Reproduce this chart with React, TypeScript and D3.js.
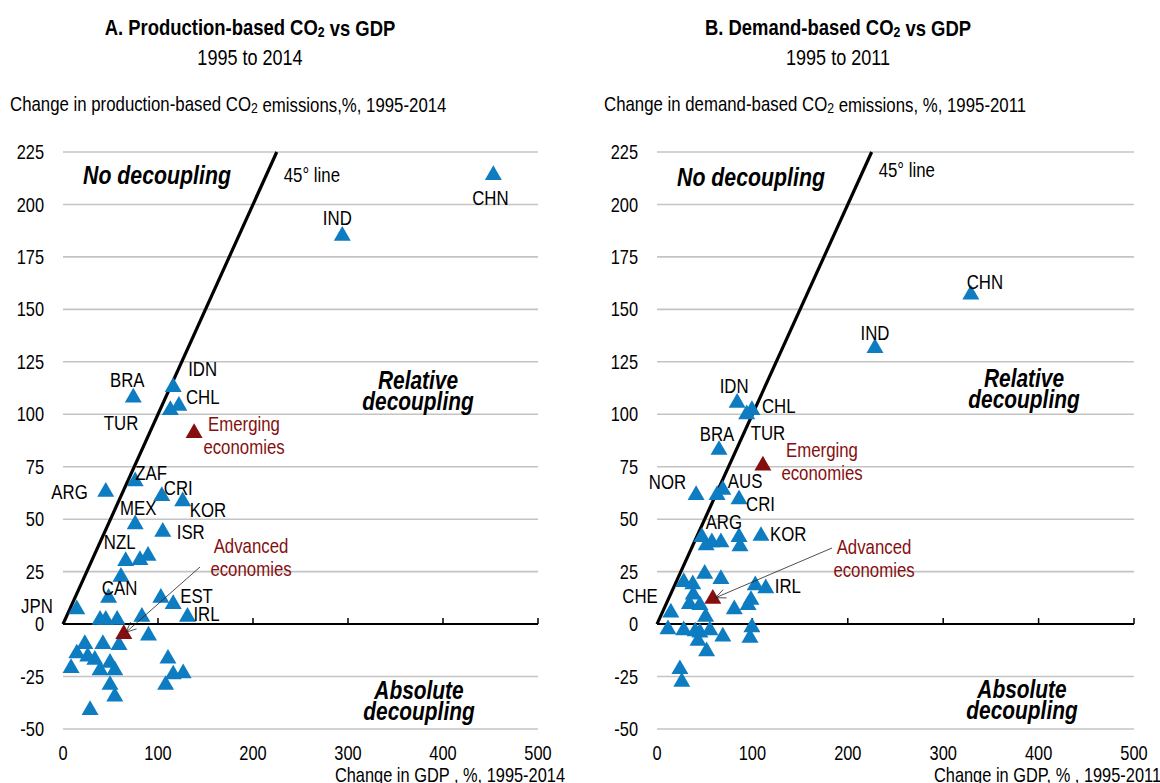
import React from "react";
import * as d3 from "d3";

// Panel A: production-based CO2 vs GDP, 1995-2014
const prodLabels = ["CHN", "IND", "IDN", "CHL", "TUR", "BRA", "ZAF", "ARG", "CRI", "KOR", "MEX", "ISR", "NZL", "CAN", "JPN", "EST", "IRL",
  "", "", "", "", "", "", "", "", "", "", "", "", "", "", "", "", "", "", "", "", "", "", "", "", "", ""];
const prodGdp = [453, 294, 116, 122, 113, 74, 76, 45, 104, 126, 76, 105, 66, 48, 14.5, 116, 131,
  81, 89.5, 61, 103, 39, 45, 57, 83, 90, 42, 59, 23, 14.5, 26, 33.5, 8.5, 39, 49.5, 54.5, 49.5, 54.5, 28.5, 110.5, 116, 126.5, 108];
const prodCo2 = [214, 185, 113, 104, 102, 108, 68, 63, 61, 58.5, 47.5, 44, 30, 12.5, 7, 9.5, 3.5,
  30.5, 32.5, 22.5, 12.5, 2, 2, 2, 3.5, -5.5, -9.5, -10, -9.5, -14, -15.5, -17, -21, -22, -18.5, -22, -29, -34.5, -41, -16.5, -24, -23.5, -29];
const prodAggregates = ["Emerging economies", "Advanced economies"];
const prodAggGdp = [138, 64];
const prodAggCo2 = [91, -4.8];

// Panel B: demand-based CO2 vs GDP, 1995-2011
const demLabels = ["CHN", "IND", "IDN", "CHL", "TUR", "BRA", "NOR", "AUS", "CRI", "ARG", "KOR", "IRL", "CHE",
  "", "", "", "", "", "", "", "", "", "", "", "", "", "", "", "", "", "", "", "", "", "", "", "", "", "", "", "", "", ""];
const demGdp = [329, 228.5, 84, 99.5, 94, 65, 41, 69, 86, 57.5, 109, 114, 14.5,
  63, 47, 51.5, 67, 86, 87, 50, 67, 28, 37.5, 103, 38, 34, 45, 98.5, 95.5, 81, 51, 11.5, 28, 40, 45, 55.5, 43, 69, 99.5, 97.5, 52, 24, 26];
const demCo2 = [157, 131.5, 105.5, 102, 100, 83, 61.5, 64, 59.5, 39, 42, 17, 5.5,
  61.5, 41.5, 37.5, 39, 41.5, 37, 24, 21.5, 20, 19, 18.5, 14, 9.5, 9, 11.5, 9, 7, 3.5, -2.5, -3, -3.5, -4, -3, -8, -6, -1.5, -6.5, -13, -21.5, -27.5];
const demAggregates = ["Emerging economies", "Advanced economies"];
const demAggGdp = [111, 58.5];
const demAggCo2 = [75.5, 12];

const xTicks = [0, 100, 200, 300, 400, 500];
const yTicks = [-50, -25, 0, 25, 50, 75, 100, 125, 150, 175, 200, 225];

type Anchor = "start" | "middle" | "end";
type Off = { dx: number; dy: number; anchor: Anchor };

// Where each country label sits relative to its marker
const prodLabelOffsets: Record<string, Off> = {
  CHN: { dx: -3, dy: 23, anchor: "middle" },
  IND: { dx: -5, dy: -18, anchor: "middle" },
  IDN: { dx: 15, dy: -18, anchor: "start" },
  CHL: { dx: 7, dy: -9, anchor: "start" },
  TUR: { dx: -32, dy: 13, anchor: "end" },
  BRA: { dx: -6, dy: -18, anchor: "middle" },
  ZAF: { dx: 0, dy: -9, anchor: "start" },
  ARG: { dx: -18, dy: 0, anchor: "end" },
  CRI: { dx: 2, dy: -8, anchor: "start" },
  KOR: { dx: 7, dy: 9, anchor: "start" },
  MEX: { dx: 3, dy: -17, anchor: "middle" },
  ISR: { dx: 14, dy: 0, anchor: "start" },
  NZL: { dx: -6, dy: -19, anchor: "middle" },
  CAN: { dx: 11, dy: -10, anchor: "middle" },
  JPN: { dx: -24, dy: -4, anchor: "end" },
  EST: { dx: 7, dy: -8, anchor: "start" },
  IRL: { dx: 6, dy: -3, anchor: "start" },
};
const demLabelOffsets: Record<string, Off> = {
  CHN: { dx: 14, dy: -13, anchor: "middle" },
  IND: { dx: 0, dy: -15, anchor: "middle" },
  IDN: { dx: -3, dy: -17, anchor: "middle" },
  CHL: { dx: 10, dy: -4, anchor: "start" },
  TUR: { dx: 4, dy: 19, anchor: "start" },
  BRA: { dx: -2, dy: -16, anchor: "middle" },
  NOR: { dx: -10, dy: -13, anchor: "end" },
  AUS: { dx: 5, dy: -9, anchor: "start" },
  CRI: { dx: 7, dy: 5, anchor: "start" },
  ARG: { dx: 12, dy: -20, anchor: "middle" },
  KOR: { dx: 9, dy: -2, anchor: "start" },
  IRL: { dx: 9, dy: -3, anchor: "start" },
  CHE: { dx: -13, dy: -17, anchor: "end" },
};

const FONT = "'Liberation Sans', Arial, sans-serif";
const SQUEEZE = 0.82; // horizontal compression for a narrow face
const BLUE = "#0E7CC1";
const RED = "#850F0F";
const GRID = "#c4c4c4";

const triangle = d3.symbol(d3.symbolTriangle, 125)() as string;

type NTextProps = {
  x: number;
  y: number;
  anchor?: Anchor;
  size: number;
  weight?: string;
  italic?: boolean;
  fill?: string;
  children: React.ReactNode;
};

// Text drawn in a horizontally condensed style
function NText({ x, y, anchor = "start", size, weight, italic, fill = "#000", children }: NTextProps) {
  return (
    <text
      transform={`translate(${x},${y}) scale(${SQUEEZE},1)`}
      textAnchor={anchor}
      dominantBaseline="central"
      fontSize={size}
      fontWeight={weight}
      fontStyle={italic ? "italic" : undefined}
      fill={fill}
    >
      {children}
    </text>
  );
}

type PanelProps = {
  left: number;
  right: number;
  titleX: number;
  title: string;
  subtitle: string;
  yTitle: string;
  yTitleTail: string;
  xTitle: string;
  labels: string[];
  gdp: number[];
  co2: number[];
  aggNames: string[];
  aggGdp: number[];
  aggCo2: number[];
  offsets: Record<string, Off>;
  emergingText: [number, number];
  advancedText: [number, number];
  arrowStart: [number, number];
  noDec: [number, number];
  relDec: [number, number];
  absDec: [number, number];
  lineLblY: number;
  xTitleX: number;
};

function Panel(p: PanelProps) {
  const x = d3.scaleLinear().domain([0, 500]).range([p.left, p.right]);
  const y = d3.scaleLinear().domain([-50, 225]).range([729, 152]);
  const lineEnd = 225;
  const advX = x(p.aggGdp[1]);
  const advY = y(p.aggCo2[1]);
  const ang = Math.atan2(advY - p.arrowStart[1], advX - p.arrowStart[0]);
  const tipX = advX - Math.cos(ang) * 3;
  const tipY = advY - Math.sin(ang) * 3;
  const ah = 11;
  const aw = 0.42;
  return (
    <g fontFamily={FONT}>
      <NText x={p.titleX} y={27} anchor="middle" size={22.5} weight="bold">
        {p.title}
        <tspan fontSize={15} dy={5}>2</tspan>
        <tspan dy={-5}> vs GDP</tspan>
      </NText>
      <NText x={p.titleX} y={57} anchor="middle" size={22}>
        {p.subtitle}
      </NText>
      <NText x={p.left - 53} y={104} size={20.5}>
        {p.yTitle}
        <tspan fontSize={15} dy={4}>2</tspan>
        <tspan dy={-4}>{p.yTitleTail}</tspan>
      </NText>

      {yTicks.map((t) => (
        <g key={t}>
          {t !== 0 && (
            <line x1={p.left} x2={p.right} y1={y(t)} y2={y(t)} stroke={GRID} strokeWidth={1.6} />
          )}
          <NText x={p.left - 19} y={y(t)} anchor="end" size={20}>
            {t}
          </NText>
        </g>
      ))}

      <line x1={p.left} x2={p.right} y1={y(0)} y2={y(0)} stroke="#000" strokeWidth={2} />
      {xTicks.map((t) => (
        <g key={t}>
          {t > 0 && <line x1={x(t)} x2={x(t)} y1={y(0)} y2={y(0) - 6} stroke="#000" strokeWidth={1.5} />}
          <NText x={x(t)} y={753} anchor="middle" size={20}>
            {t}
          </NText>
        </g>
      ))}
      <NText x={p.xTitleX} y={775} anchor="end" size={20}>
        {p.xTitle}
      </NText>

      {/* y = x reference line */}
      <line x1={x(0)} y1={y(0)} x2={x(lineEnd)} y2={y(lineEnd)} stroke="#000" strokeWidth={3.2} />
      <NText x={x(lineEnd) + 7} y={p.lineLblY} size={20.5}>
        45° line
      </NText>

      <NText x={p.noDec[0]} y={p.noDec[1]} anchor="middle" size={26} weight="bold" italic>
        No decoupling
      </NText>
      <NText x={p.relDec[0]} y={p.relDec[1]} anchor="middle" size={25.5} weight="bold" italic>
        <tspan x={0}>Relative</tspan>
        <tspan x={0} dy={21}>decoupling</tspan>
      </NText>
      <NText x={p.absDec[0]} y={p.absDec[1]} anchor="middle" size={25.5} weight="bold" italic>
        <tspan x={0}>Absolute</tspan>
        <tspan x={0} dy={21}>decoupling</tspan>
      </NText>

      {p.gdp.map((g, i) => (
        <path key={i} d={triangle} transform={`translate(${x(g)},${y(p.co2[i])})`} fill={BLUE} />
      ))}
      {p.labels.map((l, i) => {
        if (!l) return null;
        const o = p.offsets[l];
        return (
          <NText key={l} x={x(p.gdp[i]) + o.dx} y={y(p.co2[i]) + o.dy} anchor={o.anchor} size={20.5}>
            {l}
          </NText>
        );
      })}

      {p.aggGdp.map((g, i) => (
        <path key={p.aggNames[i]} d={triangle} transform={`translate(${x(g)},${y(p.aggCo2[i])})`} fill={RED} />
      ))}
      {[p.emergingText, p.advancedText].map((pos, i) => {
        const words = p.aggNames[i].split(" ");
        return (
          <NText key={i} x={pos[0]} y={pos[1]} anchor="middle" size={20.5} fill={RED}>
            <tspan x={0}>{words[0]}</tspan>
            <tspan x={0} dy={23}>{words[1]}</tspan>
          </NText>
        );
      })}

      {/* pointer to the advanced-economies aggregate */}
      <line x1={p.arrowStart[0]} y1={p.arrowStart[1]} x2={tipX} y2={tipY} stroke="#222" strokeWidth={0.8} />
      <line x1={tipX} y1={tipY} x2={tipX - ah * Math.cos(ang - aw)} y2={tipY - ah * Math.sin(ang - aw)} stroke="#222" strokeWidth={0.8} />
      <line x1={tipX} y1={tipY} x2={tipX - ah * Math.cos(ang + aw)} y2={tipY - ah * Math.sin(ang + aw)} stroke="#222" strokeWidth={0.8} />
    </g>
  );
}

export default function App() {
  return (
    <svg width={1160} height={783} style={{ position: "absolute", left: 0, top: 0, background: "#fff" }}>
      <rect width={1160} height={783} fill="#fff" />
      <Panel
        left={63}
        right={538}
        titleX={250}
        title="A. Production-based CO"
        subtitle="1995 to 2014"
        yTitle="Change in production-based CO"
        yTitleTail=" emissions,%, 1995-2014"
        xTitle="Change in GDP , %, 1995-2014"
        labels={prodLabels}
        gdp={prodGdp}
        co2={prodCo2}
        aggNames={prodAggregates}
        aggGdp={prodAggGdp}
        aggCo2={prodAggCo2}
        offsets={prodLabelOffsets}
        emergingText={[244, 423]}
        advancedText={[251, 545]}
        arrowStart={[200, 567]}
        noDec={[157, 175]}
        relDec={[418, 380]}
        absDec={[419, 690]}
        lineLblY={175}
        xTitleX={565}
      />
      <Panel
        left={657}
        right={1134}
        titleX={838}
        title="B. Demand-based CO"
        subtitle="1995 to 2011"
        yTitle="Change in demand-based CO"
        yTitleTail=" emissions, %, 1995-2011"
        xTitle="Change in GDP, % , 1995-2011"
        labels={demLabels}
        gdp={demGdp}
        co2={demCo2}
        aggNames={demAggregates}
        aggGdp={demAggGdp}
        aggCo2={demAggCo2}
        offsets={demLabelOffsets}
        emergingText={[822, 449]}
        advancedText={[874, 546]}
        arrowStart={[832, 548]}
        noDec={[751, 177]}
        relDec={[1024, 378]}
        absDec={[1022, 689]}
        lineLblY={170}
        xTitleX={1161}
      />
    </svg>
  );
}
